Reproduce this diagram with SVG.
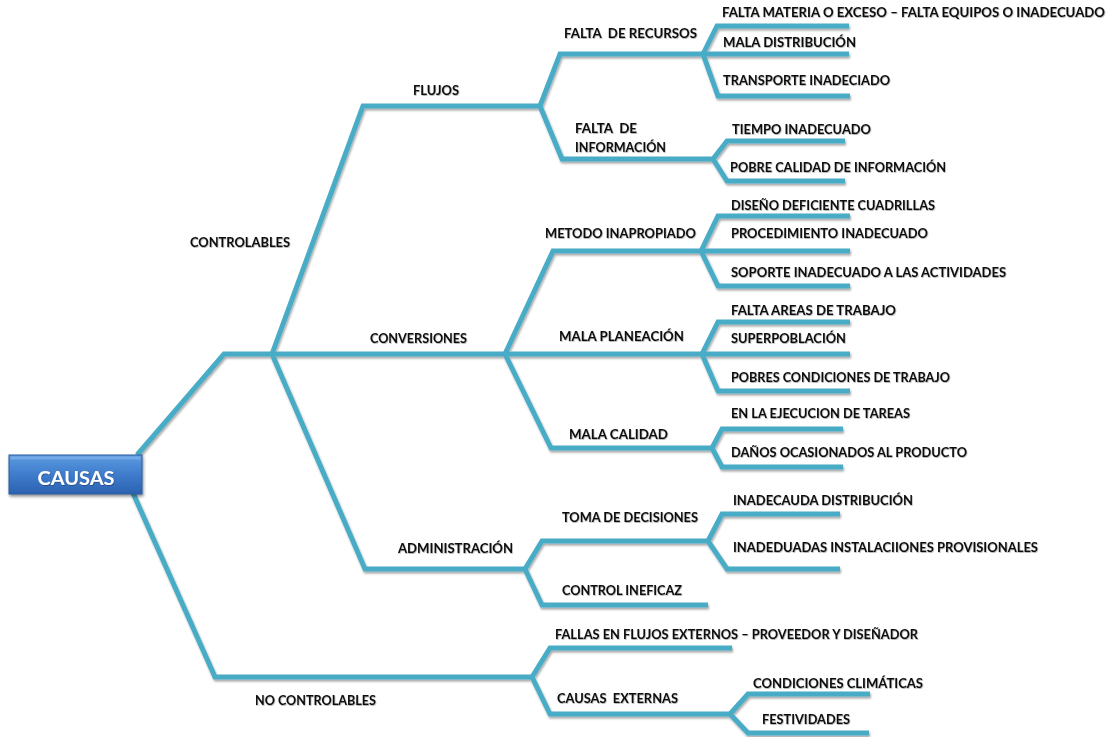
<svg xmlns="http://www.w3.org/2000/svg" width="1115" height="737" viewBox="0 0 1115 737">
  <defs>
    <linearGradient id="boxFill" x1="0" y1="0" x2="0" y2="1">
      <stop offset="0" stop-color="#5b9be0"/>
      <stop offset="0.5" stop-color="#3f7ccc"/>
      <stop offset="1" stop-color="#2c62b2"/>
    </linearGradient>
    <filter id="lineShadow" x="-5%" y="-5%" width="110%" height="115%">
      <feDropShadow dx="1" dy="2" stdDeviation="1" flood-color="#000" flood-opacity="0.35"/>
    </filter>
    <filter id="boxShadow" x="-10%" y="-20%" width="125%" height="150%">
      <feDropShadow dx="1" dy="2" stdDeviation="1.5" flood-color="#000" flood-opacity="0.45"/>
    </filter>
    <filter id="textSoft" x="-5%" y="-30%" width="110%" height="160%">
      <feDropShadow dx="0.6" dy="0.8" stdDeviation="0.6" flood-color="#000" flood-opacity="0.35"/>
    </filter>
  </defs>
  <style>
    .link { fill: none; stroke: #4aacc6; stroke-width: 5; stroke-linejoin: miter; stroke-linecap: butt; }
    .lbl { font-family: Lato, "Open Sans", "Liberation Sans", sans-serif; font-weight: 700; font-size: 13.5px; fill: #111111; white-space: pre; }
    .root { font-family: Lato, "Open Sans", "Liberation Sans", sans-serif; font-weight: 700; font-size: 19px; fill: #ffffff; }
  </style>
  <rect width="1115" height="737" fill="#ffffff"/>

  <!-- connectors -->
  <g id="connectors" filter="url(#lineShadow)">
    <path class="link" d="M137,455 L224,354 L505,354"/>
    <path class="link" d="M272,354 L363,106 L540,106"/>
    <path class="link" d="M272,354 L365,569 L525,569"/>
    <path class="link" d="M133,493 L215,677 L532,677"/>
    <!-- flujos -->
    <path class="link" d="M540,106 L560,54 L703,54"/>
    <path class="link" d="M540,106 L562,159 L713,159"/>
    <path class="link" d="M703,54 L717,26 L849,26"/>
    <path class="link" d="M703,54 L849,54"/>
    <path class="link" d="M703,54 L718,96 L850,96"/>
    <path class="link" d="M713,159 L727,141 L845,141"/>
    <path class="link" d="M713,159 L727,181 L845,181"/>
    <!-- conversiones -->
    <path class="link" d="M505,354 L553,251 L701,251"/>
    <path class="link" d="M505,354 L850,354"/>
    <path class="link" d="M505,354 L551,448 L712,448"/>
    <path class="link" d="M701,251 L718,216 L850,216"/>
    <path class="link" d="M701,251 L850,251"/>
    <path class="link" d="M701,251 L718,286 L850,286"/>
    <path class="link" d="M702,354 L718,322 L850,322"/>
    <path class="link" d="M702,354 L718,391 L850,391"/>
    <path class="link" d="M712,448 L722,429 L843,429"/>
    <path class="link" d="M712,448 L722,467 L843,467"/>
    <!-- administracion -->
    <path class="link" d="M525,569 L542,541 L708,541"/>
    <path class="link" d="M525,569 L542,605 L708,605"/>
    <path class="link" d="M708,541 L722,514 L840,514"/>
    <path class="link" d="M708,541 L727,569 L840,569"/>
    <!-- no controlables -->
    <path class="link" d="M532,677 L550,648 L732,648"/>
    <path class="link" d="M532,677 L550,714 L730,714"/>
    <path class="link" d="M730,714 L748,694 L870,694"/>
    <path class="link" d="M730,714 L748,733 L869,733"/>
  </g>

  <!-- root -->
  <g id="n-causas">
    <rect x="9" y="455" width="133" height="39" fill="url(#boxFill)" stroke="#2a5a9e" stroke-width="1" filter="url(#boxShadow)"/>
    <rect x="10.5" y="456.5" width="130" height="3" fill="#8ab8ee" opacity="0.6"/>
    <text class="root" x="76" y="485" text-anchor="middle" textLength="77" lengthAdjust="spacingAndGlyphs" filter="url(#textSoft)">CAUSAS</text>
  </g>

  <g filter="url(#textSoft)">
    <g id="n-controlables"><text class="lbl" x="190" y="246.5" textLength="100" lengthAdjust="spacingAndGlyphs">CONTROLABLES</text></g>
    <g id="n-no-controlables"><text class="lbl" x="255" y="704.5" textLength="121" lengthAdjust="spacingAndGlyphs">NO CONTROLABLES</text></g>
    <g id="n-flujos"><text class="lbl" x="413" y="94.5" textLength="46" lengthAdjust="spacingAndGlyphs">FLUJOS</text></g>
    <g id="n-conversiones"><text class="lbl" x="370" y="342.5" textLength="97" lengthAdjust="spacingAndGlyphs">CONVERSIONES</text></g>
    <g id="n-administracion"><text class="lbl" x="398" y="552.5" textLength="115" lengthAdjust="spacingAndGlyphs">ADMINISTRACIÓN</text></g>

    <g id="n-falta-recursos"><text class="lbl" x="564" y="37.5" textLength="133" lengthAdjust="spacingAndGlyphs">FALTA  DE RECURSOS</text></g>
    <g id="n-falta-informacion">
      <text class="lbl" x="575" y="132.5" textLength="62" lengthAdjust="spacingAndGlyphs">FALTA  DE</text>
      <text class="lbl" x="575" y="151.5" textLength="91" lengthAdjust="spacingAndGlyphs">INFORMACIÓN</text>
    </g>
    <g id="n-metodo"><text class="lbl" x="545" y="237.5" textLength="151" lengthAdjust="spacingAndGlyphs">METODO INAPROPIADO</text></g>
    <g id="n-planeacion"><text class="lbl" x="559" y="340.5" textLength="125" lengthAdjust="spacingAndGlyphs">MALA PLANEACIÓN</text></g>
    <g id="n-calidad"><text class="lbl" x="569" y="438.5" textLength="99" lengthAdjust="spacingAndGlyphs">MALA CALIDAD</text></g>
    <g id="n-toma"><text class="lbl" x="562" y="521.5" textLength="136" lengthAdjust="spacingAndGlyphs">TOMA DE DECISIONES</text></g>
    <g id="n-control"><text class="lbl" x="562" y="594.5" textLength="120" lengthAdjust="spacingAndGlyphs">CONTROL INEFICAZ</text></g>
    <g id="n-fallas"><text class="lbl" x="555" y="638.5" textLength="363" lengthAdjust="spacingAndGlyphs">FALLAS EN FLUJOS EXTERNOS – PROVEEDOR Y DISEÑADOR</text></g>
    <g id="n-causas-externas"><text class="lbl" x="557" y="702.5" textLength="121" lengthAdjust="spacingAndGlyphs">CAUSAS  EXTERNAS</text></g>

    <g id="n-falta-materia"><text class="lbl" x="722" y="17" textLength="383" lengthAdjust="spacingAndGlyphs">FALTA MATERIA O EXCESO – FALTA EQUIPOS O INADECUADO</text></g>
    <g id="n-mala-distribucion"><text class="lbl" x="723" y="46.5" textLength="133" lengthAdjust="spacingAndGlyphs">MALA DISTRIBUCIÓN</text></g>
    <g id="n-transporte"><text class="lbl" x="723" y="84.5" textLength="167" lengthAdjust="spacingAndGlyphs">TRANSPORTE INADECIADO</text></g>
    <g id="n-tiempo"><text class="lbl" x="732" y="133.5" textLength="139" lengthAdjust="spacingAndGlyphs">TIEMPO INADECUADO</text></g>
    <g id="n-pobre-calidad"><text class="lbl" x="730" y="171.5" textLength="216" lengthAdjust="spacingAndGlyphs">POBRE CALIDAD DE INFORMACIÓN</text></g>
    <g id="n-diseno"><text class="lbl" x="731" y="209.5" textLength="204" lengthAdjust="spacingAndGlyphs">DISEÑO DEFICIENTE CUADRILLAS</text></g>
    <g id="n-procedimiento"><text class="lbl" x="731" y="237.5" textLength="197" lengthAdjust="spacingAndGlyphs">PROCEDIMIENTO INADECUADO</text></g>
    <g id="n-soporte"><text class="lbl" x="731" y="276.5" textLength="275" lengthAdjust="spacingAndGlyphs">SOPORTE INADECUADO A LAS ACTIVIDADES</text></g>
    <g id="n-areas"><text class="lbl" x="731" y="314.5" textLength="165" lengthAdjust="spacingAndGlyphs">FALTA AREAS DE TRABAJO</text></g>
    <g id="n-superpoblacion"><text class="lbl" x="731" y="342.5" textLength="115" lengthAdjust="spacingAndGlyphs">SUPERPOBLACIÓN</text></g>
    <g id="n-pobres-condiciones"><text class="lbl" x="731" y="381.5" textLength="219" lengthAdjust="spacingAndGlyphs">POBRES CONDICIONES DE TRABAJO</text></g>
    <g id="n-ejecucion"><text class="lbl" x="731" y="417.5" textLength="179" lengthAdjust="spacingAndGlyphs">EN LA EJECUCION DE TAREAS</text></g>
    <g id="n-danos"><text class="lbl" x="731" y="456.5" textLength="236" lengthAdjust="spacingAndGlyphs">DAÑOS OCASIONADOS AL PRODUCTO</text></g>
    <g id="n-inadecauda"><text class="lbl" x="733" y="504.5" textLength="180" lengthAdjust="spacingAndGlyphs">INADECAUDA DISTRIBUCIÓN</text></g>
    <g id="n-instalaciones"><text class="lbl" x="733" y="551.5" textLength="305" lengthAdjust="spacingAndGlyphs">INADEDUADAS INSTALACIIONES PROVISIONALES</text></g>
    <g id="n-climaticas"><text class="lbl" x="753" y="687.5" textLength="170" lengthAdjust="spacingAndGlyphs">CONDICIONES CLIMÁTICAS</text></g>
    <g id="n-festividades"><text class="lbl" x="762" y="723.5" textLength="88" lengthAdjust="spacingAndGlyphs">FESTIVIDADES</text></g>
  </g>
</svg>
